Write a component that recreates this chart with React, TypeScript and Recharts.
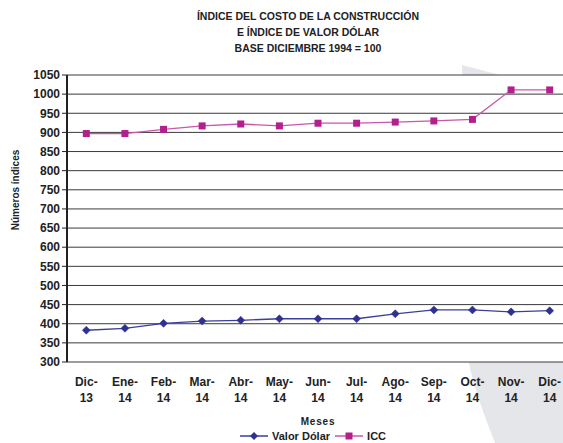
import React from 'react';
import { ComposedChart, Line, XAxis, YAxis, CartesianGrid, Legend } from 'recharts';

const meses = ['Dic-13', 'Ene-14', 'Feb-14', 'Mar-14', 'Abr-14', 'May-14', 'Jun-14', 'Jul-14', 'Ago-14', 'Sep-14', 'Oct-14', 'Nov-14', 'Dic-14'];
const valorDolar = [383, 388, 401, 407, 409, 413, 413, 413, 426, 436, 436, 431, 434];
const icc = [897, 897, 908, 917, 922, 917, 924, 924, 927, 930, 934, 1011, 1011];
const yTicks = [300, 350, 400, 450, 500, 550, 600, 650, 700, 750, 800, 850, 900, 950, 1000, 1050];

const data = meses.map((mes, i) => ({ i, mes, valorDolar: valorDolar[i], icc: icc[i] }));
const labelTicks = meses.map((_, i) => i);
const boundaryTicks = [...meses.map((_, i) => i - 0.5), meses.length - 0.5];

const FONT = '"Liberation Sans", Arial, sans-serif';
const NAVY = '#2e3190';
const NAVY_LINE = '#3b3f9c';
const MAGENTA = '#b3208e';
const PINK_LINE = '#c957ab';

const Diamond = (props: any) => {
  const { cx, cy } = props;
  if (cx == null || cy == null) return null;
  const r = 4;
  return <path d={`M${cx},${cy - r}L${cx + r},${cy}L${cx},${cy + r}L${cx - r},${cy}Z`} fill={NAVY} stroke={NAVY} strokeWidth={0.5} />;
};

const Square = (props: any) => {
  const { cx, cy } = props;
  if (cx == null || cy == null) return null;
  const s = 3.5;
  return <rect x={cx - s} y={cy - s} width={s * 2} height={s * 2} fill={MAGENTA} />;
};

const EmptyTick = () => <g />;

const MonthTick = ({ x, y, payload }: any) => {
  const label = meses[payload.value] || '';
  const [a, b] = label.split('-');
  return (
    <text x={x} y={y} textAnchor="middle" fontFamily={FONT} fontWeight="bold" fontSize={12} fill="#222">
      <tspan x={x} dy={24}>{a}-</tspan>
      <tspan x={x} dy={16}>{b}</tspan>
    </text>
  );
};

const LegendContent = () => (
  <div style={{ display: 'flex', alignItems: 'center', paddingLeft: 240, fontFamily: FONT, fontWeight: 'bold', fontSize: 11, color: '#222', height: 14 }}>
    <svg width={29} height={10}>
      <line x1={0} y1={5} x2={28} y2={5} stroke={NAVY_LINE} strokeWidth={1.5} />
      <path d="M14,1L18,5L14,9L10,5Z" fill={NAVY} />
    </svg>
    <span style={{ marginLeft: 3 }}>Valor Dólar</span>
    <svg width={29} height={10} style={{ marginLeft: 5 }}>
      <line x1={0} y1={5} x2={28} y2={5} stroke={PINK_LINE} strokeWidth={1.5} />
      <rect x={10.5} y={1.5} width={7} height={7} fill={MAGENTA} />
    </svg>
    <span style={{ marginLeft: 3 }}>ICC</span>
  </div>
);

export default function App() {
  return (
    <div style={{ position: 'fixed', left: 0, top: 0, width: 563, height: 443, overflow: 'hidden', background: '#fff' }}>
      {/* decorative grey band behind the chart */}
      <svg width={563} height={443} style={{ position: 'absolute', left: 0, top: 0 }}>
        <path d="M462,65 L563,92 L563,443 L495,443 Q474,390 469,363 Z" fill="#e5e6e9" />
      </svg>
      <div style={{ position: 'absolute', left: 0, top: 8, width: 616, textAlign: 'center', fontFamily: FONT, fontWeight: 'bold', fontSize: 10.5, lineHeight: '16px', color: '#222', letterSpacing: 0 }}>
        <div>ÍNDICE DEL COSTO DE LA CONSTRUCCIÓN</div>
        <div>E ÍNDICE DE VALOR DÓLAR</div>
        <div>BASE DICIEMBRE 1994 = 100</div>
      </div>
      <div style={{ position: 'absolute', left: 0, top: 0 }}>
        <ComposedChart width={575} height={443} data={data} margin={{ top: 75, right: 6, left: 0, bottom: 0 }}>
          <CartesianGrid horizontal vertical={false} stroke="#3a3a3a" fill="#fff" />
          <XAxis
            dataKey="i"
            type="number"
            domain={[-0.5, 12.5]}
            allowDataOverflow
            ticks={boundaryTicks}
            interval={0}
            height={0}
            tick={<EmptyTick />}
            tickSize={4}
            axisLine={{ stroke: '#222', strokeWidth: 2 }}
            tickLine={{ stroke: '#222' }}
          />
          <XAxis
            xAxisId="lbl"
            dataKey="i"
            type="number"
            domain={[-0.5, 12.5]}
            allowDataOverflow
            ticks={labelTicks}
            interval={0}
            height={67}
            axisLine={false}
            tickLine={false}
            tickSize={0}
            tickMargin={0}
            tick={<MonthTick />}
            label={{
              content: (p: any) => (
                <text x={p.viewBox.x + p.viewBox.width / 2} y={p.viewBox.y + 63} textAnchor="middle" fontFamily={FONT} fontWeight="bold" fontSize={10} letterSpacing={0.8} fill="#222">
                  Meses
                </text>
              ),
            }}
          />
          <YAxis
            domain={[300, 1050]}
            ticks={yTicks}
            interval={0}
            width={67}
            tickSize={5}
            tickMargin={2}
            allowDataOverflow
            tick={{ fontFamily: FONT, fontWeight: 'bold', fontSize: 12, fill: '#222' }}
            axisLine={{ stroke: '#222', strokeWidth: 2 }}
            tickLine={{ stroke: '#222' }}
            label={{
              content: () => (
                <text x={19} y={190} transform="rotate(-90 19 190)" textAnchor="middle" fontFamily={FONT} fontWeight="bold" fontSize={10} fill="#222">
                  Números índices
                </text>
              ),
            }}
          />
          <Legend verticalAlign="bottom" height={14} content={<LegendContent />} />
          <Line
            name="Valor Dólar"
            dataKey="valorDolar"
            type="linear"
            stroke={NAVY_LINE}
            strokeWidth={1.3}
            dot={<Diamond />}
            activeDot={false}
            isAnimationActive={false}
          />
          <Line
            name="ICC"
            dataKey="icc"
            type="linear"
            stroke={PINK_LINE}
            strokeWidth={1.3}
            dot={<Square />}
            activeDot={false}
            isAnimationActive={false}
          />
        </ComposedChart>
      </div>
    </div>
  );
}
